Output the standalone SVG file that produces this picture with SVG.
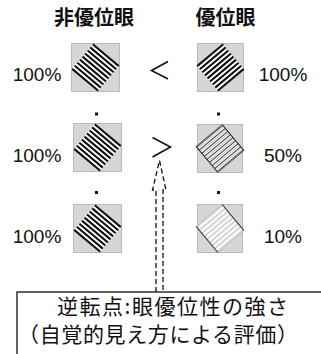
<svg xmlns="http://www.w3.org/2000/svg" width="321" height="354" viewBox="0 0 321 354">
<style>
.bg{fill:#ffffff}
.head{font-family:"Noto Sans CJK JP","Noto Sans CJK SC",sans-serif;font-weight:bold;font-size:20px;fill:#111;text-anchor:middle}
.pct{font-family:"Liberation Sans",Arial,sans-serif;font-size:19px;fill:#111;text-anchor:middle}
.sq{fill:#d6d6d6;stroke:#8a8a8a;stroke-width:1;stroke-dasharray:1 1}
.dot{fill:#111}
.cmp{fill:none;stroke:#111;stroke-width:1.6;stroke-linejoin:miter}
.arrow{fill:none;stroke:#111;stroke-width:1.3;stroke-dasharray:5 3}
.box{fill:#fff;stroke:#111;stroke-width:1.3}
.note{font-family:"Noto Sans CJK JP","Noto Sans CJK SC",sans-serif;font-size:21px;fill:#111}
.edge{stroke:#333;stroke-width:1}
.dfull{fill:#ffffff}
.sfull{fill:none;stroke:#111;stroke-width:2.1}
.dhalf{fill:#f8f8f8;stroke:#555;stroke-width:0.8}
.shalf{fill:none;stroke:#3a3a3a;stroke-width:1}
.shalf2{fill:none;stroke:#b5b5b5;stroke-width:0.8}
.dtenth{fill:#e2e2e2;stroke:#aaa;stroke-width:0.6}
.stenth{fill:none;stroke:#ffffff;stroke-width:1.6}
.stenth2{fill:none;stroke:#c4c4c4;stroke-width:0.7}
</style>
<defs>
<path id="stripes" d="M-17,-16H17M-17,-12H17M-17,-8H17M-17,-4H17M-17,0H17M-17,4H17M-17,8H17M-17,12H17M-17,16H17"/>
<path id="stripesB" d="M-17,-14H17M-17,-10H17M-17,-6H17M-17,-2H17M-17,2H17M-17,6H17M-17,10H17M-17,14H17"/>
</defs>
<rect class="bg" x="0" y="0" width="321" height="354"/>

<g id="header-left"><text class="head" x="94" y="25">非優位眼</text></g>
<g id="header-right"><text class="head" x="225.5" y="25">優位眼</text></g>

<g id="row1-left">
<text class="pct" x="37" y="81">100%</text>
<rect class="sq" x="71.5" y="43.5" width="48" height="48"/>
<g transform="translate(95.5,67.5) rotate(40)"><rect class="dfull" x="-17" y="-17" width="34" height="34"/><use href="#stripes" class="sfull"/></g>
</g>
<g id="row1-right">
<rect class="sq" x="197.5" y="43.5" width="46" height="48"/>
<g transform="translate(220.5,67.5) rotate(-40)"><rect class="dfull" x="-17" y="-17" width="34" height="34"/><use href="#stripes" class="sfull"/></g>
<text class="pct" x="283" y="81">100%</text>
</g>
<g id="cmp1"><polyline class="cmp" points="168,61.5 151.5,70.5 168,79"/></g>

<g id="dots1">
<rect class="dot" x="95" y="112.5" width="3" height="3"/>
<rect class="dot" x="217" y="112.5" width="3" height="3"/>
</g>

<g id="row2-left">
<text class="pct" x="37" y="162">100%</text>
<rect class="sq" x="73.5" y="123.5" width="48" height="48"/>
<g transform="translate(97.5,147.5) rotate(40)"><rect class="dfull" x="-17" y="-17" width="34" height="34"/><use href="#stripes" class="sfull"/></g>
</g>
<g id="row2-right">
<rect class="sq" x="197.5" y="124.5" width="45" height="48"/>
<g transform="translate(220,148.5) rotate(-40)"><rect class="dhalf" x="-17" y="-17" width="34" height="34"/><use href="#stripes" class="shalf"/><use href="#stripesB" class="shalf2"/>
<line class="edge" x1="17" y1="-17" x2="17" y2="17"/><line class="edge" x1="-17" y1="-17" x2="-17" y2="17"/></g>
<text class="pct" x="283" y="162">50%</text>
</g>
<g id="cmp2"><polyline class="cmp" points="152.5,137.5 170.5,147 152.5,157"/></g>

<g id="dots2">
<rect class="dot" x="95" y="191" width="3" height="3"/>
<rect class="dot" x="217" y="191" width="3" height="3"/>
</g>

<g id="row3-left">
<text class="pct" x="37" y="243">100%</text>
<rect class="sq" x="73.5" y="204.5" width="48" height="48"/>
<g transform="translate(97.5,228.5) rotate(40)"><rect class="dfull" x="-17" y="-17" width="34" height="34"/><use href="#stripes" class="sfull"/></g>
</g>
<g id="row3-right">
<rect class="sq" x="197.5" y="204.5" width="45" height="48"/>
<g transform="translate(220,228.5) rotate(-40)"><rect class="dtenth" x="-17" y="-17" width="34" height="34"/><use href="#stripesB" class="stenth"/><use href="#stripes" class="stenth2"/>
<line class="edge" x1="17" y1="-17" x2="17" y2="17"/><line class="edge" x1="-17" y1="-17" x2="-17" y2="17"/></g>
<text class="pct" x="283" y="243">10%</text>
</g>

<g id="connectors">
<path class="arrow" d="M156,292 L156,190 L152.5,190 L159.5,160.5 L166,190 L163,190 L163,292"/>
</g>

<g id="note-box">
<rect class="box" x="17" y="292" width="330" height="90"/>
<text class="note" x="57" y="313.5" textLength="231" lengthAdjust="spacing">逆転点:眼優位性の強さ</text>
<text class="note" x="18" y="341.5" textLength="280" lengthAdjust="spacing">（自覚的見え方による評価）</text>
</g>
</svg>
